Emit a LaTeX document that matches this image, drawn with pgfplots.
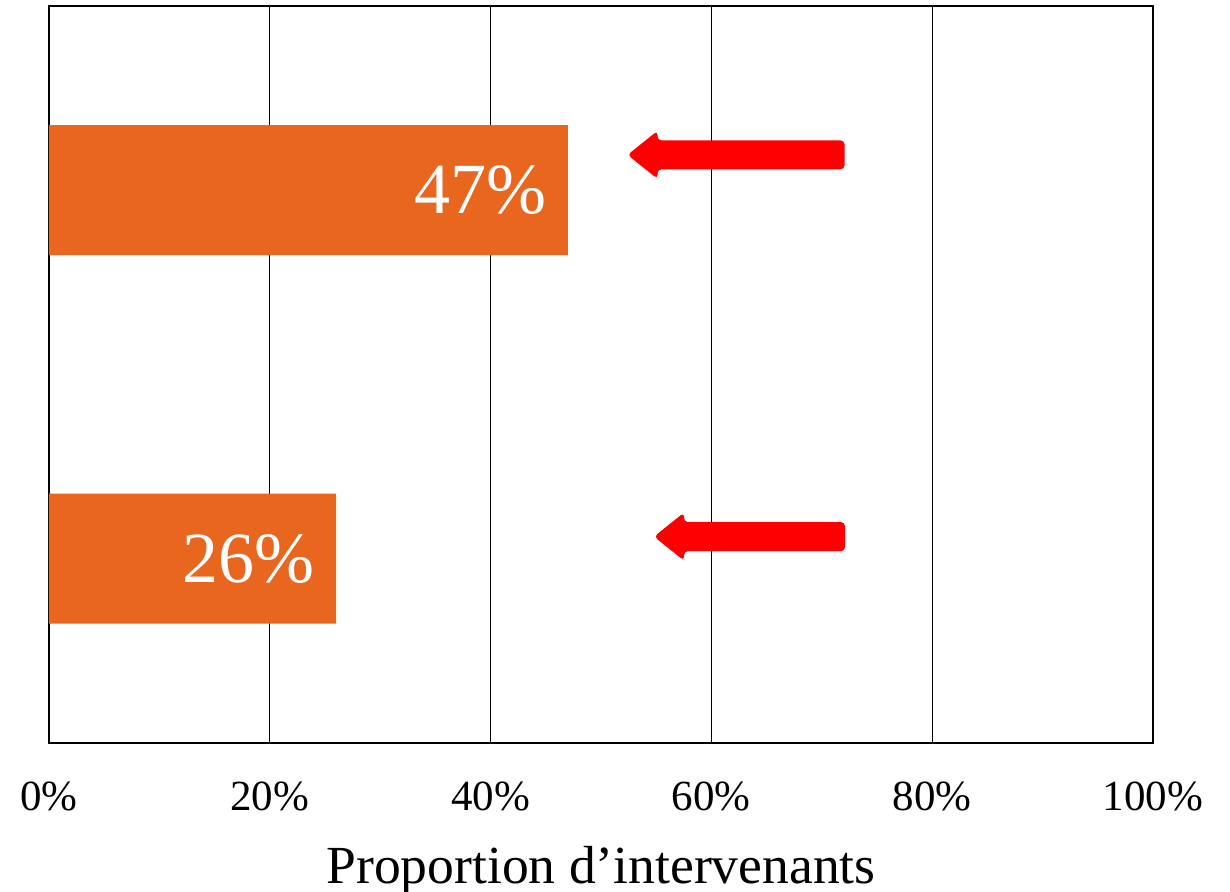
\documentclass[border=0pt]{standalone}
\usepackage{pgfplots}
\pgfplotsset{compat=1.18}
\usetikzlibrary{calc}
\usepackage{fontspec}
\setmainfont{Liberation Serif}
\definecolor{barorange}{HTML}{E9661F}
\begin{document}
\begin{tikzpicture}
\begin{axis}[
 name=ax,
 width=552pt, height=368.5pt, scale only axis,
 xbar, xmin=0, xmax=100, ymin=-0.5, ymax=1.5,
 bar width=65pt,
 xtick={0,20,40,60,80,100},
 xticklabel={\pgfmathprintnumber{\tick}\%},
 ytick=\empty,
 xmajorgrids, grid style={black, line width=0.65pt},
 axis line style={black, line width=0.8pt},
 major tick length=0pt,
 /pgf/number format/assume math mode=true,
 tick label style={font=\fontsize{21.5}{25}\selectfont},
 xticklabel style={yshift=-16pt},
 xlabel={Proportion d’intervenants},
 xlabel style={font=\fontsize{26.8}{30}\selectfont, at={(axis description cs:0.5,0)}, anchor=north, yshift=-48pt},
 point meta=x,
 nodes near coords={\pgfmathprintnumber{\pgfplotspointmeta}\%},
 nodes near coords style={anchor=east, text=white, font=\fontsize{36}{40}\selectfont, xshift=-7pt},
 clip=false,
]
\addplot[fill=barorange, draw=none] coordinates {(26,0) (47,1)};
\coordinate (t1) at (axis cs:52.4,1.096);
\coordinate (t2) at (axis cs:54.8,0.060);
\end{axis}
\fill[red, rounded corners=2pt] (t1) -- ++(15pt,12pt) -- ++(0,-4.75pt) -- ++(93.5pt,0) -- ++(0,-14.5pt) -- ++(-93.5pt,0) -- ++(0,-4.75pt) -- cycle;
\fill[red, rounded corners=2pt] (t2) -- ++(15pt,12pt) -- ++(0,-4.75pt) -- ++(80.5pt,0) -- ++(0,-14.5pt) -- ++(-80.5pt,0) -- ++(0,-4.75pt) -- cycle;
\pgfresetboundingbox
\path[use as bounding box] ($(ax.south west)+(-24.5pt,-74.5pt)$) rectangle ($(ax.north east)+(38.5pt,3pt)$);
\end{tikzpicture}
\end{document}
